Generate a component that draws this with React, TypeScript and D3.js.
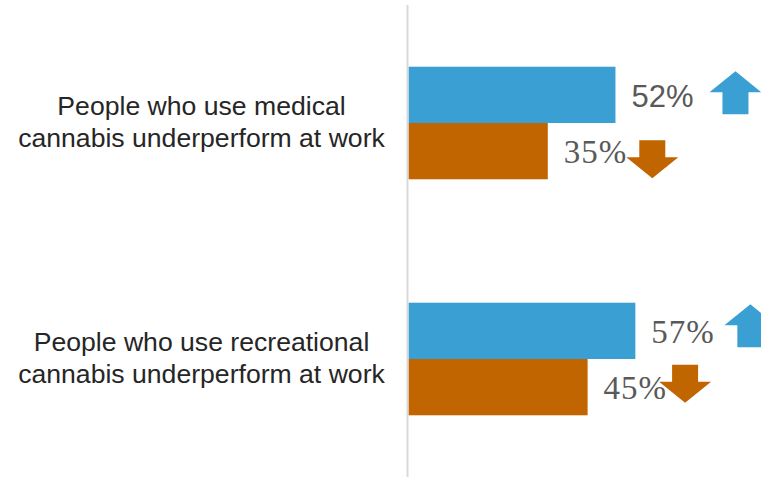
import React from "react";
import * as d3 from "d3";

const categories = [
  ["People who use medical", "cannabis underperform at work"],
  ["People who use recreational", "cannabis underperform at work"],
];
const seriesNames = ["Increase", "Decrease"];
const upValues = [52, 57];
const downValues = [35, 45];
const SANS = "Liberation Sans, Arial, sans-serif";
const SERIF = "Liberation Serif, Times New Roman, serif";
const labelFonts = [
  [SANS, SERIF],
  [SERIF, SERIF],
];
// arrow annotation offsets (px from bar end, px from bar centre)
const upArrowOffsets = [[120, -2], [115, -5]];
const downArrowOffsets = [[104.5, 8], [97.5, -3.5]];

const colors = ["#3A9FD3", "#C06500"];

const W = 761;
const H = 498;

function Arrow({ cx, cy, dir, color }: { cx: number; cy: number; dir: "up" | "down"; color: string }) {
  const headW = 52;
  const stemW = 26;
  const headH = 21;
  const total = dir === "up" ? 43 : 38;
  const s = dir === "up" ? -1 : 1;
  const tipY = cy + (s * total) / 2;
  const baseY = tipY - s * headH;
  const tailY = cy - (s * total) / 2;
  const pts = [
    [cx, tipY],
    [cx + headW / 2, baseY],
    [cx + stemW / 2, baseY],
    [cx + stemW / 2, tailY],
    [cx - stemW / 2, tailY],
    [cx - stemW / 2, baseY],
    [cx - headW / 2, baseY],
  ];
  return <path d={d3.line()(pts as [number, number][]) + "Z"} fill={color} />;
}

export default function App() {
  const x0 = 408.5;
  const x = d3.scaleLinear().domain([0, 100]).range([x0, x0 + 398]);
  const y = d3
    .scaleBand<number>()
    .domain(d3.range(categories.length))
    .range([5, 477])
    .paddingInner(0.523)
    .paddingOuter(0.2615);
  const sub = d3.scaleBand<number>().domain([0, 1]).range([0, y.bandwidth()]);
  const series = [upValues, downValues];

  return (
    <svg
      width={W}
      height={H}
      style={{ position: "absolute", left: 0, top: 0, display: "block", background: "#fff" }}
    >
      {categories.map((lines, i) => {
        const yc = (y(i) as number) + y.bandwidth() / 2;
        return (
          <text
            key={"c" + i}
            x={201.5}
            textAnchor="middle"
            fontFamily={SANS}
            fontSize={26.6}
            fill="#262626"
          >
            <tspan x={201.5} y={yc - 8}>{lines[0]}</tspan>
            <tspan x={201.5} y={yc + 24}>{lines[1]}</tspan>
          </text>
        );
      })}
      {series.map((vals, s) =>
        vals.map((v, i) => {
          const by = (y(i) as number) + (sub(s) as number);
          const bh = sub.bandwidth();
          const end = x(v);
          const cy = by + bh / 2;
          const off = s === 0 ? upArrowOffsets[i] : downArrowOffsets[i];
          const isSans = labelFonts[i][s] === SANS;
          return (
            <g key={seriesNames[s] + i}>
              <rect x={x0} y={by} width={end - x0} height={bh} fill={colors[s]} />
              <text
                x={end + 16}
                y={cy + 12}
                fontFamily={labelFonts[i][s]}
                fontSize={isSans ? 31 : 33}
                letterSpacing={isSans ? 0 : 1}
                fill="#595959"
              >
                {v}%
              </text>
              <Arrow cx={end + off[0]} cy={cy + off[1]} dir={s === 0 ? "up" : "down"} color={colors[s]} />
            </g>
          );
        })
      )}
      <line x1={407.5} x2={407.5} y1={5} y2={477} stroke="#D9D9D9" strokeWidth={2} />
    </svg>
  );
}
